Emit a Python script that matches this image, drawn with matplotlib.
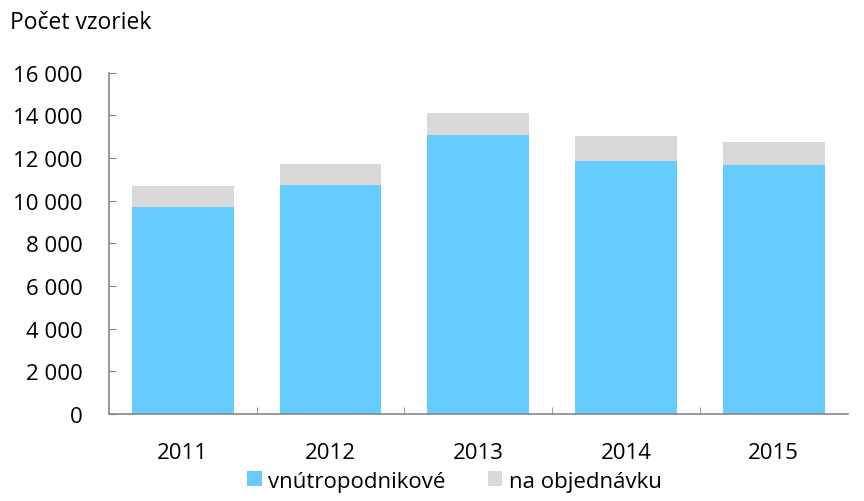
import matplotlib.pyplot as plt
import numpy as np

years = ['2011', '2012', '2013', '2014', '2015']
internal = [9710, 10740, 13090, 11870, 11670]
ordered = [970, 980, 1020, 1190, 1080]
yticks = [0, 2000, 4000, 6000, 8000, 10000, 12000, 14000, 16000]
ytick_labels = ['0', '2 000', '4 000', '6 000', '8 000', '10 000', '12 000', '14 000', '16 000']

plt.rcParams['font.family'] = ['Open Sans', 'DejaVu Sans']
plt.rcParams['font.size'] = 16

fig = plt.figure(figsize=(8.64, 5.02), dpi=100)
ax = fig.add_axes([0.126, 0.173, 0.855, 0.680])

x = np.arange(len(years))
ax.bar(x, internal, width=0.69, color='#66CCFF', label='vnútropodnikové')
ax.bar(x, ordered, width=0.69, bottom=internal, color='#D9D9D9', label='na objednávku')

ax.set_xlim(-0.5, 4.5)
ax.set_ylim(0, 16000)
ax.set_yticks(yticks)
ax.set_yticklabels(ytick_labels)
ax.set_xticks(x)
ax.set_xticklabels(years)
ax.set_xticks(np.arange(0.5, 4.0, 1.0), minor=True)

ax.tick_params(axis='x', which='major', length=0, pad=20)
ax.tick_params(axis='x', which='minor', length=5, direction='in', color='#868686')
ax.tick_params(axis='y', length=5, direction='in', color='#868686', pad=19)

for s in ['top', 'right']:
    ax.spines[s].set_visible(False)
for s in ['left', 'bottom']:
    ax.spines[s].set_color('#868686')
    ax.spines[s].set_linewidth(1.2)

fig.text(0.012, 0.955, 'Počet vzoriek', fontsize=16.5, va='center', ha='left')

fig.legend(loc='lower center', bbox_to_anchor=(0.526, -0.008), ncol=2, frameon=False,
           fontsize=16, handlelength=0.65, handleheight=0.65,
           handletextpad=0.3, columnspacing=1.9, borderaxespad=0.2)

fig.savefig('out.png', dpi=100)
